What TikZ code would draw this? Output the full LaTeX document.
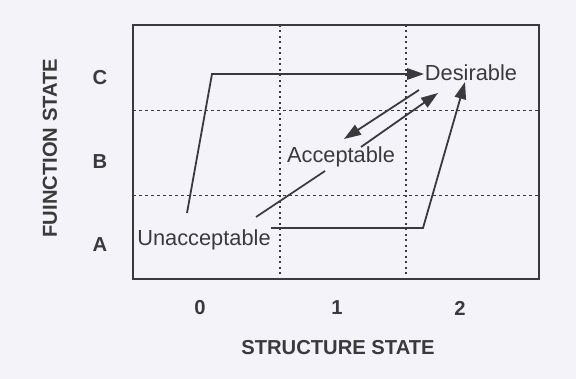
\documentclass[tikz,border=0pt]{standalone}
\usepackage{fontspec}
\setmainfont{Liberation Sans}
\usetikzlibrary{arrows.meta}
\definecolor{bg}{HTML}{F4F3FA}
\definecolor{ink}{HTML}{3A3A3C}
\begin{document}
\begin{tikzpicture}[x=1pt,y=-1pt,
  lbl/.style={text=ink,font=\fontsize{21.8}{24}\selectfont,inner sep=0pt},
  axl/.style={text=ink,font=\bfseries\fontsize{20.2}{22}\selectfont,inner sep=0pt},
  flow/.style={draw=ink,line width=1.8pt},
  arr/.style={flow,-{Triangle[length=17pt,width=11.5pt]}},
  grid1/.style={draw=ink,line width=1.2pt,dash pattern=on 2pt off 3.5pt},
  grid2/.style={draw=ink,line width=1pt,dash pattern=on 3pt off 3pt}]
\fill[bg] (0,0) rectangle (576,379);
\useasboundingbox (0,0) rectangle (576,379);
% grid
\draw[grid1] (280,25) -- (280,279);
\draw[grid1] (406,25) -- (406,279);
\draw[grid2] (133,111) -- (539,111);
\draw[grid2] (133,196) -- (539,196);
\draw[draw=ink,line width=1.3pt] (133,25) rectangle (539,279);
% labels
\node[lbl] (des) at (471,73) {Desirable};
\node[lbl] (acc) at (341,157) {Acceptable};
\node[lbl] (una) at (204,240) {Unacceptable};
\node[axl] (c) at (100,78) {C};
\node[axl] (b) at (100,162) {B};
\node[axl] (a) at (100,245) {A};
\node[axl] (x0) at (200,308) {0};
\node[axl] (x1) at (337,308) {1};
\node[axl] (x2) at (460,308) {2};
\node[axl] (xt) at (338,348) {STRUCTURE STATE};
\node[axl,rotate=90] (yt) at (50,148) {FUINCTION STATE};
% connectors
\coordinate (p1) at (187,213);
\coordinate (p2) at (212,74);
\coordinate (p3) at (424,74);
\draw[arr] (p1) -- (p2) -- (p3);
\coordinate (q1) at (419,90);
\coordinate (q2) at (344,139);
\draw[arr] (q1) -- (q2);
\coordinate (r1) at (361,147);
\coordinate (r2) at (438,93);
\draw[arr] (r1) -- (r2);
\coordinate (s1) at (256,217);
\coordinate (s2) at (325,171);
\draw[flow] (s1) -- (s2);
\coordinate (t1) at (271,228);
\coordinate (t2) at (423,228);
\coordinate (t3) at (465,82);
\draw[arr] (t1) -- (t2) -- (t3);
\end{tikzpicture}
\end{document}
